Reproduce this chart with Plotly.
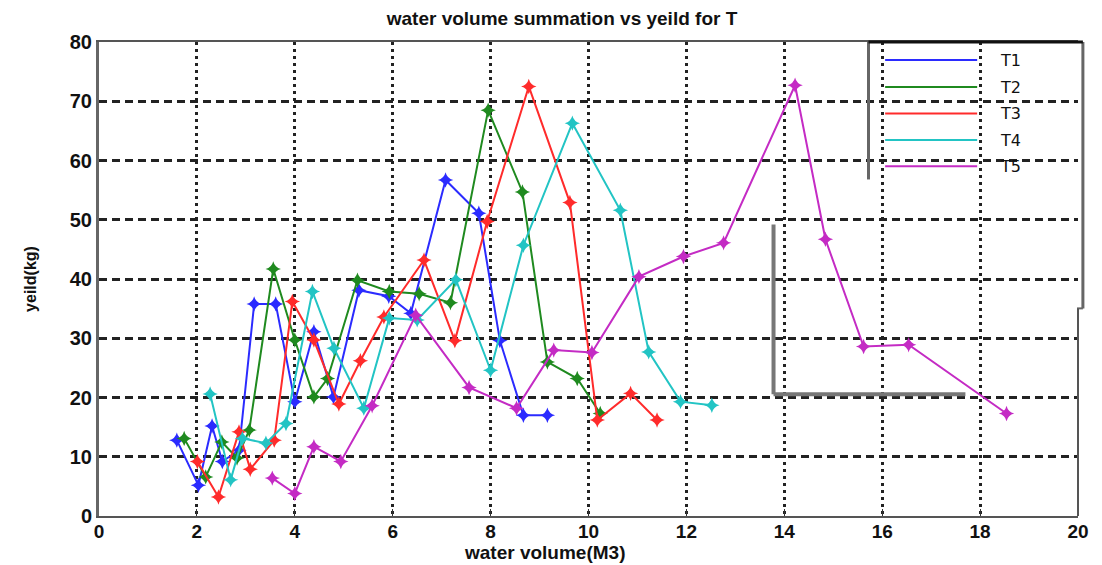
import plotly.graph_objects as go

# ---- data ----
series_names = ["T1", "T2", "T3", "T4", "T5"]
series_colors = ["#2b2bff", "#1f8a1f", "#ff2b2b", "#22c4c4", "#c42bc4"]

t1_x = [1.59, 2.03, 2.31, 2.52, 2.86, 3.17, 3.61, 4.0, 4.39, 4.79, 5.31, 5.92, 6.37, 7.08, 7.76, 8.19, 8.67, 9.16]
t1_y = [12.8, 5.2, 15.2, 9.2, 11.1, 35.8, 35.8, 19.3, 31.1, 20.1, 38.1, 37.1, 34.2, 56.7, 51.1, 29.6, 17.0, 17.0]

t2_x = [1.74, 2.18, 2.51, 2.82, 3.07, 3.56, 4.0, 4.39, 4.67, 5.28, 5.93, 6.54, 7.18, 7.95, 8.65, 9.16, 9.77, 10.24]
t2_y = [13.1, 6.6, 12.5, 9.8, 14.5, 41.7, 29.7, 20.1, 23.2, 39.8, 37.9, 37.5, 36.0, 68.5, 54.7, 26.0, 23.2, 17.3]

t3_x = [2.01, 2.44, 2.86, 3.09, 3.58, 3.95, 4.39, 4.9, 5.34, 5.82, 6.64, 7.27, 7.93, 8.78, 9.62, 10.18, 10.86, 11.4]
t3_y = [9.2, 3.2, 14.2, 7.9, 12.8, 36.2, 29.7, 18.9, 26.2, 33.6, 43.2, 29.6, 49.7, 72.5, 52.9, 16.2, 20.7, 16.2]

t4_x = [2.27, 2.69, 2.93, 3.41, 3.82, 4.36, 4.8, 5.41, 5.93, 6.5, 7.29, 8.0, 8.67, 9.67, 10.65, 11.23, 11.88, 12.52]
t4_y = [20.6, 6.1, 13.1, 12.3, 15.6, 37.9, 28.3, 18.2, 33.4, 33.1, 39.9, 24.6, 45.7, 66.3, 51.6, 27.7, 19.3, 18.7]

t5_x = [3.54, 4.0, 4.39, 4.94, 5.58, 6.47, 7.56, 8.53, 9.29, 10.07, 11.03, 11.94, 12.76, 14.22, 14.84, 15.62, 16.54, 18.54]
t5_y = [6.4, 3.8, 11.7, 9.2, 18.6, 33.9, 21.7, 18.2, 28.0, 27.6, 40.4, 43.8, 46.1, 72.7, 46.7, 28.6, 28.9, 17.3]

x_ticks = [0, 2, 4, 6, 8, 10, 12, 14, 16, 18, 20]
y_ticks = [0, 10, 20, 30, 40, 50, 60, 70, 80]

title_text = "water volume summation vs yeild for T"
x_title = "water volume(M3)"
y_title = "yeild(kg)"

xs = [t1_x, t2_x, t3_x, t4_x, t5_x]
ys = [t1_y, t2_y, t3_y, t4_y, t5_y]

FONT = "Liberation Sans, Arial, sans-serif"

fig = go.Figure()
for name, color, x, y in zip(series_names, series_colors, xs, ys):
    fig.add_trace(go.Scatter(
        x=x, y=y, name=name, mode="lines+markers",
        line=dict(color=color, width=2),
        marker=dict(symbol="star-diamond", size=11, color=color),
        showlegend=False,
    ))

shapes = []
# white legend area covering gridlines
shapes.append(dict(type="rect", xref="paper", yref="paper", x0=0.785, x1=1.01, y0=0.385, y1=1.0,
                   fillcolor="white", line=dict(width=0), layer="between"))
# legend frame pieces
shapes.append(dict(type="line", xref="paper", yref="paper", x0=0.786, x1=0.786, y0=0.71, y1=1.0,
                   line=dict(color="#666", width=3)))
shapes.append(dict(type="line", xref="paper", yref="paper", x0=1.005, x1=1.005, y0=0.438, y1=1.0,
                   line=dict(color="#666", width=3)))
shapes.append(dict(type="line", xref="paper", yref="paper", x0=0.999, x1=1.005, y0=0.438, y1=0.438,
                   line=dict(color="#666", width=2)))
shapes.append(dict(type="line", xref="paper", yref="paper", x0=0.786, x1=1.005, y0=1.0, y1=1.0,
                   line=dict(color="#111", width=3)))
# right border below legend
shapes.append(dict(type="line", xref="paper", yref="paper", x0=1.0, x1=1.0, y0=0.0, y1=0.438,
                   line=dict(color="#555", width=2)))
# scan artifact L-shape
shapes.append(dict(type="line", xref="paper", yref="paper", x0=0.689, x1=0.689, y0=0.257, y1=0.615,
                   line=dict(color="#777", width=4)))
shapes.append(dict(type="line", xref="paper", yref="paper", x0=0.689, x1=0.885, y0=0.257, y1=0.257,
                   line=dict(color="#777", width=4)))

# manual legend
annotations = []
legend_y = [0.962, 0.905, 0.849, 0.793, 0.738]
for name, color, ly in zip(series_names, series_colors, legend_y):
    shapes.append(dict(type="line", xref="paper", yref="paper", x0=0.803, x1=0.897, y0=ly, y1=ly,
                       line=dict(color=color, width=2)))
    annotations.append(dict(xref="paper", yref="paper", x=0.918, y=ly, text=name, showarrow=False,
                            xanchor="left", yanchor="middle",
                            font=dict(family="DejaVu Sans", size=16, color="#111")))

# x axis title placed as annotation below tick labels
annotations.append(dict(xref="paper", yref="paper", x=0.455, y=-0.078, text="<b>" + x_title + "</b>",
                        showarrow=False, xanchor="center", yanchor="middle",
                        font=dict(family=FONT, size=19, color="#111")))

fig.update_layout(
    width=1102, height=565,
    margin=dict(l=99, r=24, t=42, b=49),
    paper_bgcolor="white", plot_bgcolor="white",
    title=dict(text="<b>" + title_text + "</b>", x=0.51, xanchor="center", y=0.968, yanchor="middle",
               font=dict(family=FONT, size=19, color="#111")),
    shapes=shapes, annotations=annotations,
    xaxis=dict(range=[0, 20], tickvals=x_ticks, ticktext=["<b>%d</b>" % v for v in x_ticks],
               showgrid=True, gridcolor="#222", griddash="3px,4px", gridwidth=2.5,
               showline=True, linecolor="#555", linewidth=2, mirror=True,
               ticks="inside", ticklen=7, tickcolor="#333", zeroline=False, automargin=False,
               ticklabelstandoff=-3,
               tickfont=dict(family=FONT, size=19, color="#111")),
    yaxis=dict(range=[0, 80], tickvals=y_ticks, ticktext=["<b>%d</b>" % v for v in y_ticks],
               showgrid=True, gridcolor="#222", griddash="8px,5px", gridwidth=2.5,
               showline=True, linecolor="#666", linewidth=3, mirror=False,
               ticks="", zeroline=False, automargin=False,
               tickfont=dict(family=FONT, size=20, color="#111"),
               title=dict(text="<b>" + y_title + "</b>", standoff=30,
                          font=dict(family=FONT, size=16, color="#111"))),
)

fig.write_html("out.html")
